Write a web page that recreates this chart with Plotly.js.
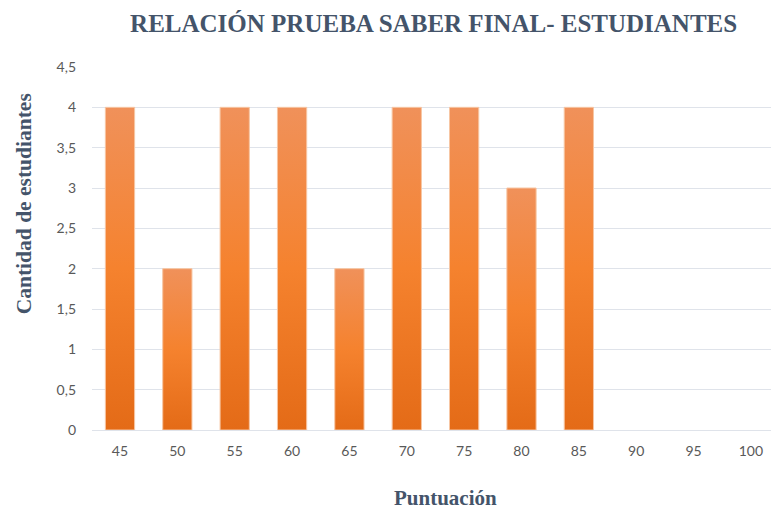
<!DOCTYPE html>
<html>
<head>
<meta charset="utf-8">
<script src="https://cdn.plot.ly/plotly-3.0.1.min.js"></script>
<style>html,body{margin:0;padding:0;background:#fff;}#chart{width:773px;height:510px;}</style>
</head>
<body>
<div id="chart"></div>
<script>
const categories = ["45","50","55","60","65","70","75","80","85","90","95","100"];
const estudiantes = [4,2,4,4,2,4,4,3,4,0,0,0];
const yTicks = [0,0.5,1,1.5,2,2.5,3,3.5,4,4.5];

const serif = '"Liberation Serif", "Times New Roman", "DejaVu Serif", serif';

const trace = {
  type: 'bar',
  x: categories,
  y: estudiantes,
  width: 0.51,
  marker: {color: '#f5822e', line: {color: '#f7c6a3', width: estudiantes.map(function(v){ return v > 0 ? 1 : 0; })}},
  hoverinfo: 'none'
};

const layout = {
  width: 773, height: 510,
  margin: {l: 92, r: 2, t: 67, b: 80},
  paper_bgcolor: '#ffffff', plot_bgcolor: '#ffffff',
  separators: ',.',
  showlegend: false,
  title: {
    text: '<b>RELACIÓN PRUEBA SABER FINAL- ESTUDIANTES</b>',
    font: {family: serif, size: 25, color: '#44546a'},
    x: 0.561, xref: 'container', xanchor: 'center',
    y: 0.955, yref: 'container', yanchor: 'middle'
  },
  xaxis: {
    type: 'category',
    range: [-0.488, 11.35],
    showgrid: false, zeroline: false, showline: false,
    ticks: '',
    ticklabelstandoff: 11,
    tickfont: {family: 'Lato, sans-serif', size: 14, color: '#595959'}
  },
  yaxis: {
    range: [0, 4.5],
    tickvals: yTicks,
    showgrid: true, gridcolor: '#dfe3ea', gridwidth: 1,
    zeroline: true, zerolinecolor: '#dfe3ea', zerolinewidth: 1,
    showline: false, ticks: '',
    ticklabelstandoff: 15,
    tickfont: {family: 'Lato, sans-serif', size: 14, color: '#595959'}
  },
  annotations: [
    {text: '<b>Cantidad de estudiantes</b>', textangle: -90, showarrow: false,
     xref: 'paper', yref: 'paper', x: -0.101, y: 0.623, xanchor: 'center', yanchor: 'middle',
     font: {family: serif, size: 21.5, color: '#44546a'}},
    {text: '<b>Puntuación</b>', showarrow: false,
     xref: 'paper', yref: 'paper', x: 0.52, y: -0.188, xanchor: 'center', yanchor: 'middle',
     font: {family: serif, size: 21, color: '#44546a'}}
  ]
};

Plotly.newPlot('chart', [trace], layout, {staticPlot: true}).then(function(gd){
  const svg = gd.querySelector('svg.main-svg');
  const ns = 'http://www.w3.org/2000/svg';
  let defs = svg.querySelector('defs');
  if (!defs) { defs = document.createElementNS(ns, 'defs'); svg.insertBefore(defs, svg.firstChild); }
  const g = document.createElementNS(ns, 'linearGradient');
  g.setAttribute('id', 'barGrad');
  g.setAttribute('x1', '0'); g.setAttribute('y1', '0');
  g.setAttribute('x2', '0'); g.setAttribute('y2', '1');
  [['0%', '#f0915a'], ['50%', '#f5822e'], ['100%', '#e46b17']].forEach(function(s){
    const st = document.createElementNS(ns, 'stop');
    st.setAttribute('offset', s[0]); st.setAttribute('stop-color', s[1]);
    g.appendChild(st);
  });
  defs.appendChild(g);
  gd.querySelectorAll('.bars .point path').forEach(function(p){
    p.style.fill = 'url(#barGrad)';
  });
});
</script>
</body>
</html>
